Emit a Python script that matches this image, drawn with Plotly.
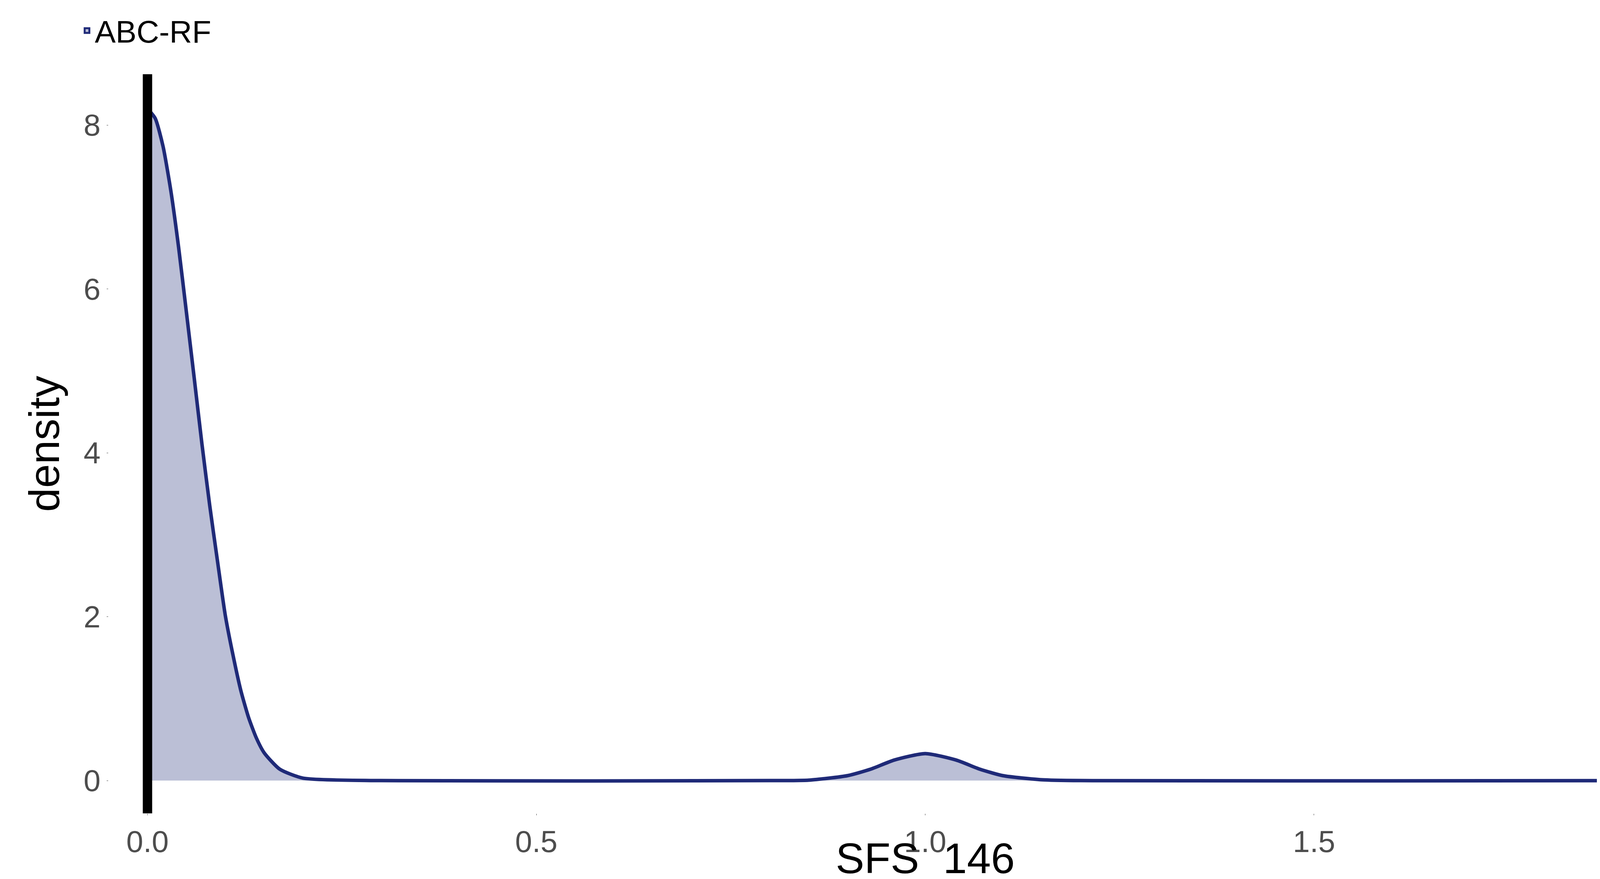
import plotly.graph_objects as go

x_vals = [0, 0.01, 0.02, 0.03, 0.04, 0.05, 0.06, 0.07, 0.08, 0.09, 0.10, 0.11, 0.12, 0.13, 0.14, 0.15,
          0.17, 0.2, 0.3, 0.8, 0.85, 0.9, 0.93, 0.96, 1.0, 1.04, 1.07, 1.1, 1.15, 1.2, 1.9, 1.95, 2.0]
density = [8.2, 8.08, 7.74, 7.20, 6.51, 5.72, 4.92, 4.11, 3.36, 2.68, 2.02, 1.53, 1.10, 0.77, 0.52, 0.34,
           0.14, 0.03, 0.0, 0.0, 0.005, 0.06, 0.14, 0.25, 0.33, 0.25, 0.14, 0.06, 0.01, 0.0, 0.0, 0.005, 0.015]
series_name = "ABC-RF"
x_ticks = [0.0, 0.5, 1.0, 1.5, 2.0]
x_ticklabels = ["0.0", "0.5", "1.0", "1.5", "2.0"]
y_ticks = [0, 2, 4, 6, 8]

fig = go.Figure()
fig.add_trace(go.Scatter(x=x_vals, y=density, mode="lines", name=series_name, showlegend=False,
                         line=dict(color="#1f2a78", width=9, shape="spline", smoothing=0.6),
                         fill="tozeroy", fillcolor="rgba(31,42,120,0.3)"))
fig.add_trace(go.Bar(x=[None], y=[None], name=series_name,
                     marker=dict(color="rgba(31,42,120,0.3)", line=dict(color="#1f2a78", width=6))))
fig.add_shape(type="line", x0=0, x1=0, y0=0, y1=1, yref="paper", xref="x",
              line=dict(color="black", width=24))
fig.update_layout(
    width=4500, height=2250, autosize=False, plot_bgcolor="white", paper_bgcolor="white",
    margin=dict(l=270, r=49, t=160, b=176),
    font=dict(family="Liberation Sans, Arial", color="black"),
    showlegend=True,
    legend=dict(x=-0.018, y=1.09, xanchor="left", yanchor="top", itemwidth=30,
                font=dict(size=80), bgcolor="rgba(0,0,0,0)"),
    xaxis=dict(range=[-0.05, 2.05], tickvals=x_ticks, ticktext=x_ticklabels, showgrid=False,
               zeroline=False, ticks="outside", ticklen=4, tickcolor="#4d4d4d", automargin=False,
               tickfont=dict(size=78, color="#4d4d4d"),
               title=dict(text="SFS_146", font=dict(size=110, color="black"), standoff=15)),
    yaxis=dict(range=[-0.4, 8.62], tickvals=y_ticks, showgrid=False, zeroline=False,
               ticks="outside", ticklen=4, tickcolor="#4d4d4d", automargin=False,
               tickfont=dict(size=78, color="#4d4d4d"),
               title=dict(text="density", font=dict(size=110, color="black"), standoff=25)),
)
fig.write_html("out.html", config={"responsive": False})
